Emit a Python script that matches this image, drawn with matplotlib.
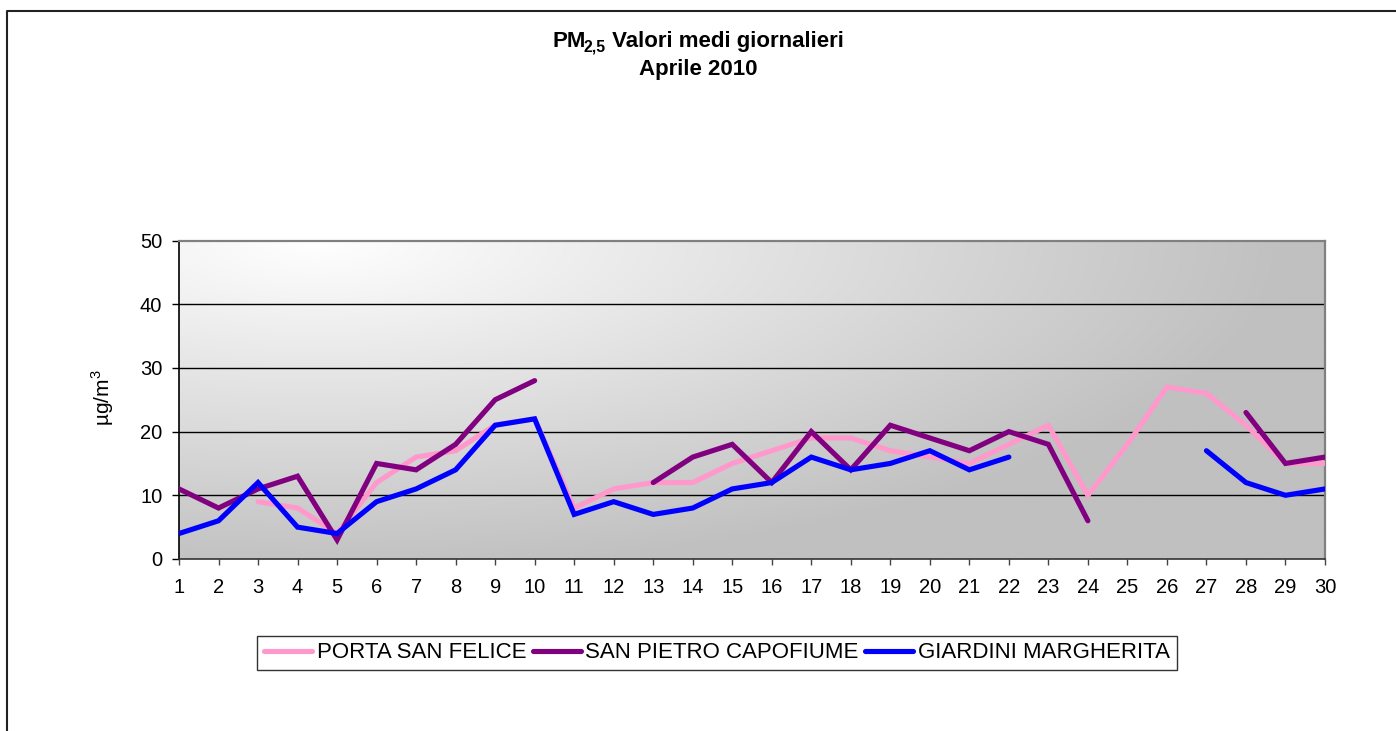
import numpy as np
import matplotlib
matplotlib.use("Agg")
import matplotlib.pyplot as plt
from matplotlib.lines import Line2D

nan = np.nan
days = list(range(1, 31))
porta_san_felice = [nan, nan, 9, 8, 4, 12, 16, 17, 21, 22,
                    8, 11, 12, 12, 15, 17, 19, 19, 17, 16,
                    15, 18, 21, 10, 18, 27, 26, 21, 15, 15]
san_pietro_capofiume = [11, 8, 11, 13, 3, 15, 14, 18, 25, 28,
                        nan, nan, 12, 16, 18, 12, 20, 14, 21, 19,
                        17, 20, 18, 6, nan, nan, nan, 23, 15, 16]
giardini_margherita = [4, 6, 12, 5, 4, 9, 11, 14, 21, 22,
                       7, 9, 7, 8, 11, 12, 16, 14, 15, 17,
                       14, 16, nan, nan, nan, nan, 17, 12, 10, 11]
series_names = ["PORTA SAN FELICE", "SAN PIETRO CAPOFIUME", "GIARDINI MARGHERITA"]
series_colors = ["#FF99CC", "#800080", "#0000FF"]
yticks = [0, 10, 20, 30, 40, 50]

plt.rcParams['font.family'] = ['Liberation Sans', 'DejaVu Sans']
plt.rcParams['mathtext.fontset'] = 'custom'
plt.rcParams['mathtext.rm'] = 'Liberation Sans'

W, H = 1396, 731
fig = plt.figure(figsize=(W / 100, H / 100), dpi=100)
fig.patch.set_facecolor('white')

L, R, T, B = 179, 1325, 240.5, 559
ax = fig.add_axes([L / W, 1 - B / H, (R - L) / W, (B - T) / H])

# background gradient
nx, ny = 400, 200
xs = np.linspace(0, 1, nx)
ys = np.linspace(1, 0, ny)  # top row = top of axes
X, Y = np.meshgrid(xs, ys)
c = np.sqrt(((X - 0.12) / 0.85) ** 2 + ((1 - Y) / 1.05) ** 2)
c = np.clip(c, 0, 1)
gray = 192 / 255
v = 1.0 * (1 - c) + gray * c
img = np.dstack([v, v, v])
ax.imshow(img, extent=[1, 30, 0, 50], aspect='auto', zorder=0, interpolation='bilinear')

for vals, name, col in zip([porta_san_felice, san_pietro_capofiume, giardini_margherita],
                           series_names, series_colors):
    ax.plot(days, vals, color=col, lw=3.7, label=name, zorder=3,
            solid_capstyle='round', solid_joinstyle='miter')

ax.set_xlim(1, 30)
ax.set_ylim(0, 50)
ax.set_xticks(days)
ax.set_yticks(yticks)
for yv in yticks[1:-1]:
    ax.axhline(yv, color='black', lw=1.0, zorder=1)

ax.spines['top'].set_color('#808080')
ax.spines['right'].set_color('#808080')
ax.spines['top'].set_linewidth(1.6)
ax.spines['right'].set_linewidth(1.6)
ax.spines['left'].set_color('black')
ax.spines['bottom'].set_color('#333333')
ax.spines['left'].set_linewidth(1.2)
ax.spines['bottom'].set_linewidth(1.2)

ax.tick_params(axis='x', direction='out', length=4.5, width=1, color='#444444',
               labelsize=14.5, pad=9)
ax.tick_params(axis='y', direction='out', length=5, width=1, color='black',
               labelsize=14.5, pad=7)

fig.text(103 / W, 1 - 398 / H, "µg/m$^3$", rotation=90, ha='center', va='center',
         fontsize=15)

# Title line 1 composed of pieces: "PM", subscript "2,5", " Valori medi giornalieri"
renderer = fig.canvas.get_renderer()
title_fs = 16
y1 = 1 - 47 / H  # baseline
t_pm = fig.text(0, y1, "PM", fontsize=title_fs, fontweight='bold', ha='left', va='baseline')
t_sub = fig.text(0, y1 - 5 / H, "2,5", fontsize=11.4, fontweight='bold', ha='left',
                 va='baseline')
t_rest = fig.text(0, y1, " Valori medi giornalieri", fontsize=title_fs, fontweight='bold',
                  ha='left', va='baseline')
w_pm = t_pm.get_window_extent(renderer).width
w_sub = t_sub.get_window_extent(renderer).width
w_rest = t_rest.get_window_extent(renderer).width
gap = -2
total = w_pm + gap + w_sub + w_rest
x0 = 698 - total / 2
t_pm.set_x(x0 / W)
t_sub.set_x((x0 + w_pm + gap) / W)
t_rest.set_x((x0 + w_pm + gap + w_sub) / W)

fig.text(698 / W, 1 - 70 / H, "Aprile 2010", ha='center', va='center', fontsize=title_fs,
         fontweight='bold')

leg = fig.legend(loc='center', bbox_to_anchor=(717 / W, 1 - 653 / H), ncol=3,
                 fontsize=16, frameon=True, fancybox=False, handlelength=2.15,
                 handletextpad=0.22, columnspacing=0.3, borderpad=0.3,
                 borderaxespad=0, edgecolor='black')
leg.get_frame().set_linewidth(1.0)

# outer chart border (cropped on right/bottom)
bx = 7.5 / W
by = 1 - 10.5 / H
fig.add_artist(Line2D([bx, bx, 1.0], [0, by, by], transform=fig.transFigure,
                      color='#222222', lw=1.5))

fig.savefig("out.png", dpi=100)
